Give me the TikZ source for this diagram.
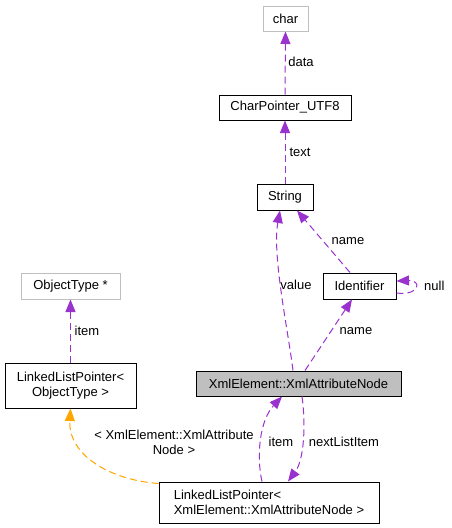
\documentclass[tikz,border=0pt]{standalone}
\usepackage{fontspec}
\setmainfont{Liberation Sans}
\usetikzlibrary{arrows.meta,calc}
\definecolor{dpurple}{HTML}{9A32CD}
\definecolor{dorange}{HTML}{FFA500}
\definecolor{dgray}{HTML}{BFBFBF}
\tikzset{
  cls/.style={draw=black, line width=1pt, inner sep=0pt, font=\fontsize{13}{15}\selectfont},
  ext/.style={cls, draw=dgray},
  lbl/.style={inner sep=0pt, font=\fontsize{13}{15}\selectfont},
  dep/.style={draw=dpurple, line width=1pt, dash pattern=on 7pt off 4pt, -{Triangle[length=12.5pt,width=10pt]}},
  tmpl/.style={dep, draw=dorange, -{Triangle[length=12.5pt,width=10pt]}},
}
\begin{document}
\begin{tikzpicture}[x=1pt,y=-1pt]
\useasboundingbox (0,0) rectangle (451,528);
\node[ext, minimum width=45pt, minimum height=25pt] (char) at (285.5,18.5) {char};
\node[cls, minimum width=132pt, minimum height=25pt] (cp) at (285,107.5) {CharPointer\_UTF8};
\node[cls, minimum width=56pt, minimum height=26pt] (str) at (285,197) {String};
\node[cls, minimum width=73pt, minimum height=26pt] (id) at (359.5,286) {Identifier};
\node[cls, fill=dgray, minimum width=205pt, minimum height=25pt] (xan) at (298.5,383.5) {XmlElement::XmlAttributeNode};
\node[ext, minimum width=99pt, minimum height=26pt] (ot) at (70.5,286) {ObjectType *};
\node[cls, minimum width=131pt, minimum height=45pt, align=center] (llpo) at (70.5,385.5) {LinkedListPointer<\\ ObjectType >};
\node[cls, minimum width=220pt, minimum height=41pt, align=left] (llpx) at (269,502.5) {LinkedListPointer<\\ XmlElement::XmlAttributeNode >};

\draw[dep] (cp.north) -- (char.south);
\node[lbl] (ldata) at (301,62) {data};
\draw[dep] (str.north) -- (cp.south);
\node[lbl] (ltext) at (300,152) {text};

\draw[dep] ($(xan.north)+(-5.5,0)$) .. controls (288,330) and (272,255) .. ($(str.south)+(-5,0)$);
\node[lbl] (lvalue) at (296,285) {value};

\draw[dep] ($(id.north)+(-9.5,0)$) -- ($(str.south)+(12,0)$);
\node[lbl] (lname1) at (348,241) {name};

\draw[dep] ($(xan.north)+(6.5,0)$) -- ($(id.south)+(-7.5,0)$);
\node[lbl] (lname2) at (356,331) {name};

\draw[dep] ($(id.east)+(0,7)$) .. controls (420,296) and (422,280) .. ($(id.east)+(0,-5)$);
\node[lbl, anchor=west] (lnull) at (424,286) {null};

\draw[dep] (llpo.north) -- (ot.south);
\node[lbl] (litem1) at (87,331) {item};

\draw[dep] ($(llpx.north)+(-7,0)$) .. controls (256,455) and (260,420) .. ($(xan.south)+(-16.5,0)$);
\node[lbl] (litem2) at (281,442) {item};

\draw[dep] ($(xan.south)+(3.5,0)$) .. controls (306,425) and (304,460) .. ($(llpx.north)+(19,0)$);
\node[lbl] (lnext) at (344,442) {nextListItem};

\draw[tmpl] ($(llpx.north west)+(0,2)$) .. controls (110,480) and (68,455) .. (llpo.south);
\node[lbl, align=center] (ltmpl) at (174,442) {< XmlElement::XmlAttribute\\Node >};
\end{tikzpicture}
\end{document}
